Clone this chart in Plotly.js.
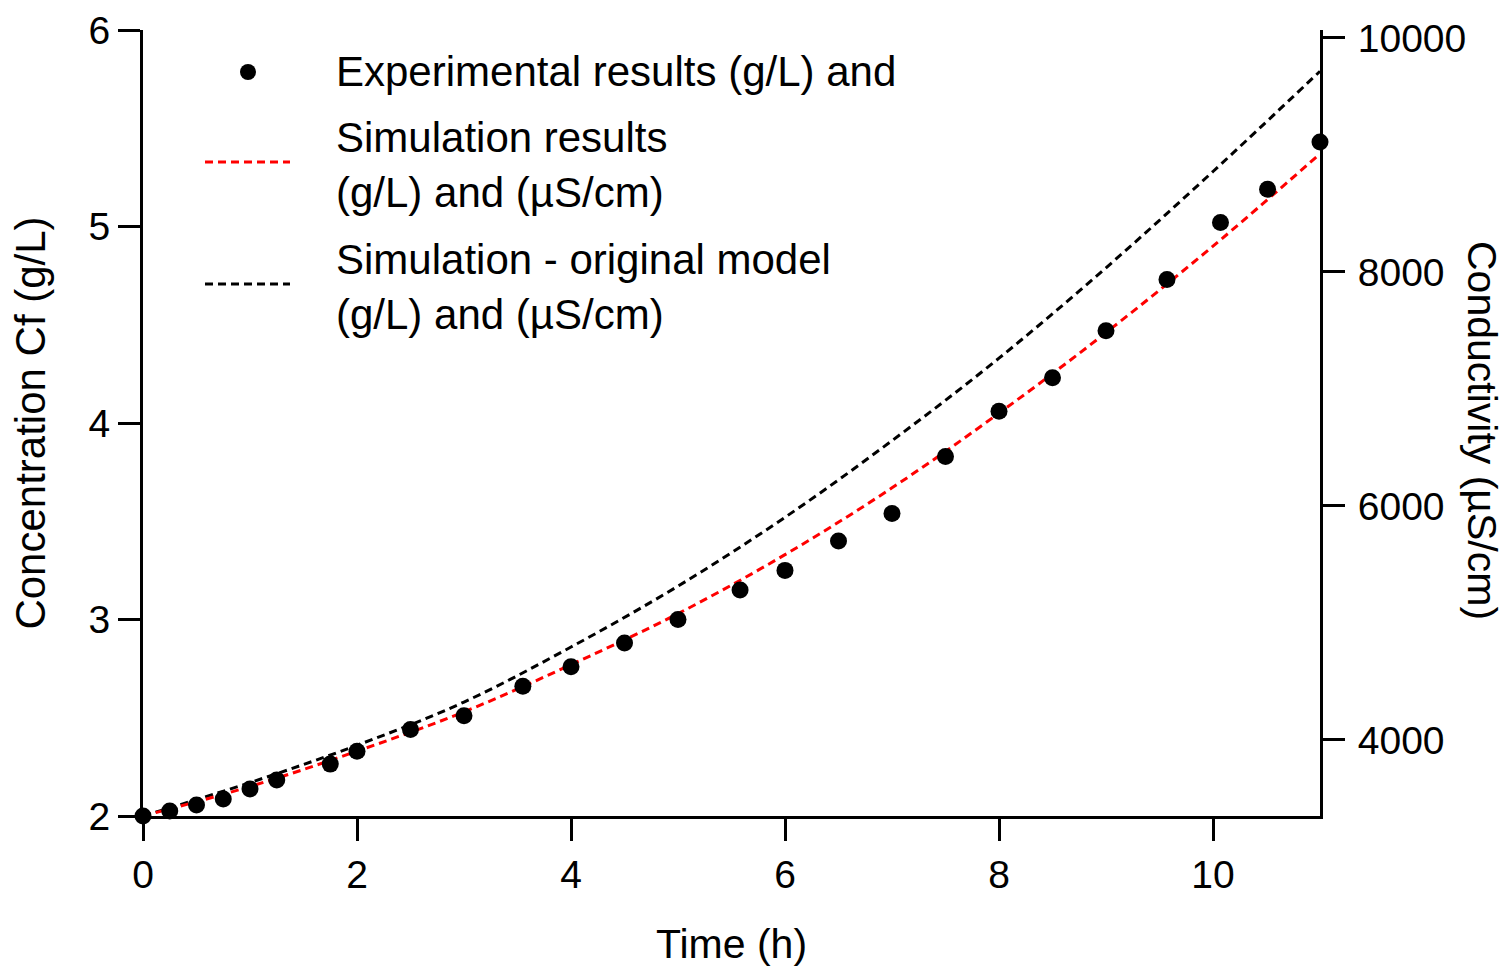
<!DOCTYPE html>
<html>
<head>
<meta charset="utf-8">
<script src="https://cdn.plot.ly/plotly-3.0.1.min.js"></script>
<style>html,body{margin:0;padding:0;background:#fff;}#chart{width:1507px;height:967px;}</style>
</head>
<body>
<div id="chart"></div>
<script>
// Experimental data
const expTime = [0, 0.25, 0.5, 0.75, 1.0, 1.25, 1.75, 2.0, 2.5, 3.0, 3.55, 4.0, 4.5, 5.0, 5.58, 6.0, 6.5, 7.0, 7.5, 8.0, 8.5, 9.0, 9.57, 10.07, 10.51, 11.0];
const expConc = [2.00, 2.025, 2.056, 2.087, 2.137, 2.183, 2.264, 2.33, 2.44, 2.51, 2.66, 2.76, 2.88, 3.00, 3.15, 3.25, 3.40, 3.54, 3.83, 4.06, 4.23, 4.47, 4.73, 5.02, 5.19, 5.43];
// Simulation results
const simTime = [0, 1, 2, 3, 4, 5, 6, 7, 8, 9, 10, 11];
const simConc = [2.00, 2.15, 2.33, 2.53, 2.77, 3.03, 3.33, 3.67, 4.05, 4.46, 4.90, 5.37];
// Simulation - original model
const origConc = [2.00, 2.17, 2.36, 2.58, 2.86, 3.17, 3.52, 3.91, 4.33, 4.79, 5.28, 5.79];
// Axis ticks
const xTicks = [0, 2, 4, 6, 8, 10];
const yTicks = [2, 3, 4, 5, 6];
const y2Ticks = [4000, 6000, 8000, 10000];
const y2Range = [3350, 10068];
const legendLabels = ["Experimental results (g/L) and", "Simulation results", "(g/L) and (\u00b5S/cm)", "Simulation - original model", "(g/L) and (\u00b5S/cm)"];

const FONT = "Liberation Sans, Arial, sans-serif";
const W = 1507, H = 967, L = 143, R = 1320, T = 30, B = 816;
const px = x => (x - L) / (R - L);
const py = y => (B - y) / (B - T);

const traces = [
  {x: simTime, y: origConc, type: 'scatter', mode: 'lines', name: 'Simulation - original model',
   line: {color: '#000000', width: 3, dash: '8px,5px', shape: 'spline'}, showlegend: false},
  {x: simTime, y: simConc, type: 'scatter', mode: 'lines', name: 'Simulation results',
   line: {color: '#ff0000', width: 3, dash: '8px,5px', shape: 'spline'}, showlegend: false},
  {x: expTime, y: expConc, type: 'scatter', mode: 'markers', name: 'Experimental results',
   marker: {color: '#000000', size: 17, symbol: 'circle'}, cliponaxis: false, showlegend: false},
  // empty trace so the conductivity axis is drawn
  {x: [], y: [], type: 'scatter', mode: 'lines', yaxis: 'y2', name: 'Conductivity', showlegend: false, hoverinfo: 'skip'}
];

const textYs = [72, 137, 192, 259, 314];
const annotations = legendLabels.map((t, i) => ({
  xref: 'paper', yref: 'paper', x: px(334), y: py(textYs[i]), xanchor: 'left', yanchor: 'middle',
  text: t, showarrow: false, font: {family: FONT, size: 42, color: '#000'}
}));
annotations.push({
  xref: 'paper', yref: 'paper', x: px(1482), y: py(430), xanchor: 'center', yanchor: 'middle',
  text: 'Conductivity (\u00b5S/cm)', textangle: 90, showarrow: false,
  font: {family: FONT, size: 41, color: '#000'}
});

const shapes = [
  {type: 'circle', xref: 'paper', yref: 'paper', x0: px(240), x1: px(256), y0: py(80), y1: py(64),
   fillcolor: '#000', line: {width: 0}},
  {type: 'line', xref: 'paper', yref: 'paper', x0: px(205), x1: px(290), y0: py(162), y1: py(162),
   line: {color: '#ff0000', width: 3, dash: '8px,5px'}},
  {type: 'line', xref: 'paper', yref: 'paper', x0: px(205), x1: px(290), y0: py(284), y1: py(284),
   line: {color: '#000000', width: 3, dash: '8px,5px'}}
];

const axisCommon = {
  showgrid: false, zeroline: false, showline: true, linecolor: '#000', linewidth: 3,
  ticks: 'outside', ticklen: 22, tickwidth: 3, tickcolor: '#000',
  tickfont: {family: FONT, size: 39, color: '#000'}, fixedrange: true
};

const layout = {
  width: W, height: H,
  margin: {l: L, r: W - R, t: T, b: H - B, pad: 0},
  paper_bgcolor: '#fff', plot_bgcolor: '#fff',
  showlegend: false,
  xaxis: Object.assign({}, axisCommon, {
    range: [0, 11], tickvals: xTicks, ticktext: xTicks.map(String),
    title: {text: 'Time (h)', font: {family: FONT, size: 41, color: '#000'}, standoff: 40}
  }),
  yaxis: Object.assign({}, axisCommon, {
    range: [2, 6], tickvals: yTicks, ticktext: yTicks.map(String),
    title: {text: 'Concentration Cf (g/L)', font: {family: FONT, size: 42, color: '#000'}, standoff: 30}
  }),
  yaxis2: Object.assign({}, axisCommon, {
    overlaying: 'y', side: 'right', range: y2Range, ticklabelstandoff: 5,
    tickvals: y2Ticks, ticktext: y2Ticks.map(String)
  }),
  annotations: annotations,
  shapes: shapes
};

Plotly.newPlot('chart', traces, layout, {staticPlot: true, displayModeBar: false});
</script>
</body>
</html>
